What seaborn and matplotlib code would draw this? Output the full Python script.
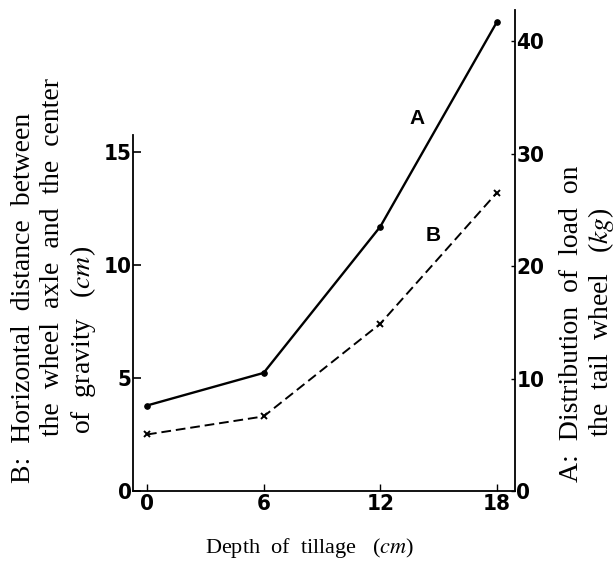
import matplotlib
matplotlib.use("Agg")
import matplotlib.pyplot as plt
import seaborn as sns

# data
depth = [0, 6, 12, 18]                # depth of tillage, cm
load_a = [7.6, 10.5, 23.5, 41.7]      # A: load on the tail wheel, kg (right axis)
dist_b = [2.5, 3.3, 7.4, 13.2]        # B: wheel axle to centre of gravity, cm (left axis)
left_ticks = [0, 5, 10, 15]
right_ticks = [0, 10, 20, 30, 40]

sns.set_style("ticks")
plt.rcParams['font.family'] = ['DejaVu Sans']
plt.rcParams['font.stretch'] = 'condensed'
plt.rcParams['mathtext.fontset'] = 'stix'
for k in ['text.color', 'axes.edgecolor', 'axes.labelcolor', 'xtick.color', 'ytick.color']:
    plt.rcParams[k] = 'black'

W, H = 615, 566
fig = plt.figure(figsize=(W / 100, H / 100), dpi=100)
ax = fig.add_axes([133 / W, (H - 491) / H, (515 - 133) / W, (491 - 10) / H])
ax2 = ax.twinx()

sns.lineplot(x=depth, y=dist_b, ax=ax, color='black', linewidth=1.4,
             linestyle=(0, (5, 2.5)), marker='x', markersize=5,
             markeredgewidth=1.4, markeredgecolor='black')
sns.lineplot(x=depth, y=load_a, ax=ax2, color='black', linewidth=1.7,
             marker='o', markersize=4, markeredgecolor='black')

ax.set_xlim(-0.72, 18.93)
ax.set_ylim(0, 21.28)
ax2.set_ylim(0, 42.76)
ax.set_xticks(depth)
ax.set_yticks(left_ticks)
ax2.set_yticks(right_ticks)
ax.set_xlabel('')
ax.set_ylabel('')
ax2.set_ylabel('')

for s in ['top', 'right']:
    ax.spines[s].set_visible(False)
for s in ['top', 'left', 'bottom']:
    ax2.spines[s].set_visible(False)
ax.spines['left'].set_bounds(0, 15.75)
for s in ['left', 'bottom']:
    ax.spines[s].set_linewidth(1.3)
ax2.spines['right'].set_linewidth(1.3)

ax.tick_params(axis='y', direction='in', length=6, width=1.2, labelsize=16, pad=1)
ax.tick_params(axis='x', direction='in', length=5, width=1.0, labelsize=16, pad=2)
ax2.tick_params(axis='y', direction='in', length=3, width=1.0, labelsize=16, pad=1)
for lab in ax.get_xticklabels() + ax.get_yticklabels() + ax2.get_yticklabels():
    lab.set_fontweight('bold')
    lab.set_fontstretch('condensed')

ax2.text(13.9, 33.1, 'A', family='Liberation Sans', weight='bold', fontsize=15,
         ha='center', va='center')
ax.text(14.7, 11.3, 'B', family='Liberation Sans', weight='bold', fontsize=15,
        ha='center', va='center')

serif = dict(family='Liberation Serif', fontsize=20, rotation=90, ha='center', va='bottom')
fig.text(24 / W, 1 - 483 / H, 'B:  Horizontal  distance  between', **serif)
fig.text(53 / W, 1 - 436 / H, 'the  wheel  axle  and  the  center', **serif)
fig.text(83 / W, 1 - 434 / H, 'of  gravity   ($cm$)', **serif)
fig.text(572 / W, 1 - 482 / H, 'A:  Distribution  of  load  on', **serif)
fig.text(601 / W, 1 - 437 / H, 'the  tail  wheel   ($kg$)', **serif)
fig.text(310 / W, 1 - 548 / H, 'Depth  of  tillage   ($cm$)', family='Liberation Serif',
         fontsize=16, ha='center', va='center')

fig.savefig('out.png', dpi=100)
